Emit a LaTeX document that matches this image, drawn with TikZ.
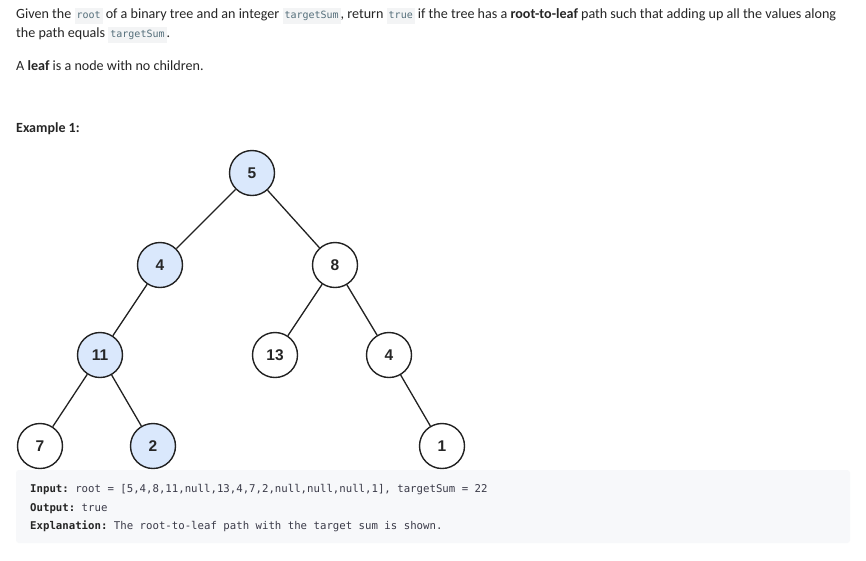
\documentclass[tikz,border=0pt]{standalone}
\usepackage{fontspec}
\setmainfont{Carlito}
\setmonofont{DejaVu Sans Mono}
\newfontfamily\nodefont{Liberation Sans}
\definecolor{txt}{HTML}{262626}
\definecolor{codefg}{HTML}{546E7A}
\definecolor{codebg}{HTML}{F3F4F5}
\definecolor{boxbg}{HTML}{F7F8FA}
\definecolor{hl}{HTML}{DAE8FC}
\definecolor{edge}{HTML}{222222}
\definecolor{monofg}{HTML}{3A3A48}
\newcommand{\inlinecode}[1]{{\setlength{\fboxsep}{2pt}\colorbox{codebg}{\fontsize{10}{12}\selectfont\ttfamily\color{codefg}\strut #1}}}
\tikzset{
  treenode/.style={circle, draw=edge, line width=1.4pt, fill=white, minimum size=45pt, inner sep=0pt, font=\nodefont\bfseries\fontsize{15.5}{17}\selectfont, text=txt},
  onpath/.style={treenode, fill=hl},
  link/.style={draw=edge, line width=1.3pt},
  para/.style={anchor=base west, inner sep=0pt, text=txt, font=\fontsize{14.1}{16}\selectfont},
  monoline/.style={anchor=base west, inner sep=0pt, text=monofg, font=\ttfamily\fontsize{10.7}{12}\selectfont}
}
\begin{document}
\begin{tikzpicture}[x=1pt,y=-1pt]
\useasboundingbox (0,0) rectangle (866,560);
\fill[white] (0,0) rectangle (866,560);
% paragraph text
\node[para] (l1) at (16,18) {Given the \inlinecode{root} of a binary tree and an integer \inlinecode{targetSum}, return \inlinecode{true} if the tree has a \textbf{root-to-leaf} path such that adding up all the values along};
\node[para] (l2) at (16,37) {the path equals \inlinecode{targetSum}.};
\node[para] (l3) at (16,70) {A \textbf{leaf} is a node with no children.};
\node[para, font=\bfseries\fontsize{14}{16}\selectfont] (ex) at (16,132) {Example 1:};
% tree
\node[onpath] (n5) at (252,173) {5};
\node[onpath] (n4) at (160,265) {4};
\node[treenode] (n8) at (335,265) {8};
\node[onpath] (n11) at (100,355) {11};
\node[treenode] (n13) at (275,355) {13};
\node[treenode] (n4b) at (389,355) {4};
\node[treenode] (n7) at (40,446) {7};
\node[onpath] (n2) at (153,446) {2};
\node[treenode] (n1) at (442,446) {1};
\draw[link] (n5) -- (n4);
\draw[link] (n5) -- (n8);
\draw[link] (n4) -- (n11);
\draw[link] (n8) -- (n13);
\draw[link] (n8) -- (n4b);
\draw[link] (n11) -- (n7);
\draw[link] (n11) -- (n2);
\draw[link] (n4b) -- (n1);
% example box
\fill[boxbg, rounded corners=3pt] (16,470) rectangle (850,543);
\node[monoline] (in) at (30,492) {\textbf{\color{txt}Input:} root = [5,4,8,11,null,13,4,7,2,null,null,null,1], targetSum = 22};
\node[monoline] (out) at (30,511) {\textbf{\color{txt}Output:} true};
\node[monoline] (expl) at (30,529) {\textbf{\color{txt}Explanation:} The root-to-leaf path with the target sum is shown.};
\end{tikzpicture}
\end{document}
